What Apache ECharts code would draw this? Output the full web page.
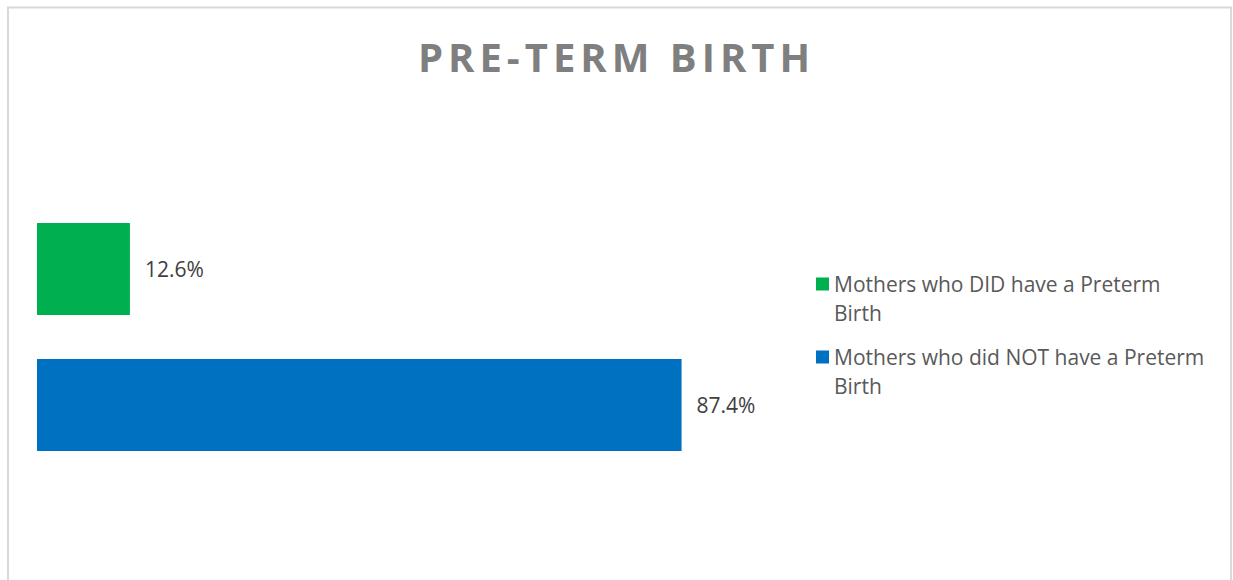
<!DOCTYPE html>
<html>
<head>
<meta charset="utf-8">
<script src="https://cdn.jsdelivr.net/npm/echarts@6/dist/echarts.min.js"></script>
<style>
  html, body { margin: 0; padding: 0; background: #fff; }
  #chart { width: 1233px; height: 580px; }
  #chart svg text[fill="#7f7f7f"] { letter-spacing: 5px; }
</style>
</head>
<body>
<div id="chart"></div>
<script>
const chartTitle = 'PRE-TERM BIRTH';
const categories = [''];
const seriesNames = ['Mothers who DID have a Preterm Birth', 'Mothers who did NOT have a Preterm Birth'];
const didHave = [12.6];
const didNotHave = [87.4];

const chart = echarts.init(document.getElementById('chart'), null, { renderer: 'svg' });

const legendIcon = 'path://M0,0H13V13H0Z M0,42L13,42Z';

chart.setOption({
  animation: false,
  backgroundColor: '#ffffff',
  graphic: [{
    type: 'rect',
    shape: { x: 8, y: 7.5, width: 1223, height: 620 },
    style: { fill: 'none', stroke: '#d9d9d9', lineWidth: 2 },
    silent: true
  }],
  title: {
    text: chartTitle,
    left: 'center',
    top: 31,
    textStyle: { fontFamily: 'Open Sans', fontWeight: 'bold', fontSize: 40, color: '#7f7f7f' }
  },
  legend: {
    orient: 'vertical',
    left: 816,
    top: 269.5,
    padding: 0,
    itemGap: 15,
    itemWidth: 13,
    itemHeight: 42,
    data: seriesNames.map(n => ({ name: n, icon: legendIcon })),
    formatter: name => name.replace(/ (\S+)$/, '\n$1'),
    textStyle: {
      fontFamily: 'Open Sans', fontSize: 21, color: '#595959', lineHeight: 29
    }
  },
  grid: { left: 37, width: 737.5, top: 154, bottom: 60 },
  xAxis: { type: 'value', min: 0, max: 100, show: false },
  yAxis: { type: 'category', data: categories, show: false },
  series: [
    {
      name: seriesNames[0], type: 'bar', data: didHave,
      barWidth: 92, barGap: '47.8%',
      itemStyle: { color: '#00b050' },
      label: { show: true, position: 'right', distance: 15, formatter: p => p.value.toFixed(1) + '%',
        fontFamily: 'Open Sans', fontSize: 21, color: '#404040' }
    },
    {
      name: seriesNames[1], type: 'bar', data: didNotHave,
      barWidth: 92, barGap: '47.8%',
      itemStyle: { color: '#0070c0' },
      label: { show: true, position: 'right', distance: 15, formatter: p => p.value.toFixed(1) + '%',
        fontFamily: 'Open Sans', fontSize: 21, color: '#404040' }
    }
  ]
});
</script>
</body>
</html>
